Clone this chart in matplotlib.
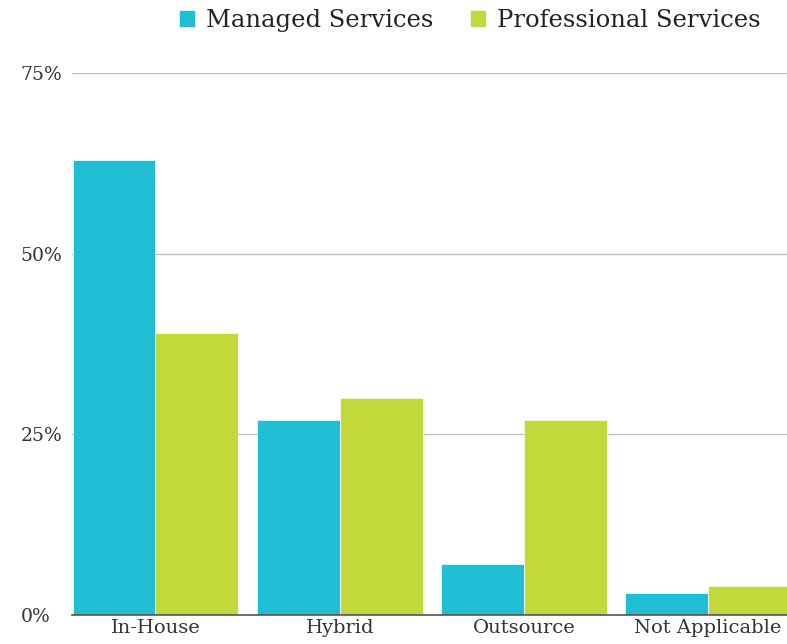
import matplotlib
matplotlib.use("Agg")
import matplotlib.pyplot as plt
import numpy as np

categories = ["In-House", "Hybrid", "Outsource", "Not Applicable"]
managed = [63, 27, 7, 3]
professional = [39, 30, 27, 4]
y_ticks = [0, 25, 50, 75]
y_labels = ["0%", "25%", "50%", "75%"]

CYAN = "#1FBED4"
GREEN = "#C2D83B"
TEXT = "#333333"

fig = plt.figure(figsize=(7.87, 6.44), dpi=100)
ax = fig.add_axes([72 / 787, 29 / 644, 715 / 787, 542 / 644])

x = np.arange(len(categories))
w = 0.45
ax.bar(x - w / 2, managed, w, color=CYAN, edgecolor="white", linewidth=0.5,
       label="Managed Services", zorder=3)
ax.bar(x + w / 2, professional, w, color=GREEN, edgecolor="white", linewidth=0.5,
       label="Professional Services", zorder=3)

ax.set_xlim(-0.4533, 3.4284)
ax.set_ylim(0, 75)
ax.set_xticks(x)
ax.set_xticklabels(categories, fontsize=14, family="DejaVu Serif", color=TEXT)
ax.set_yticks(y_ticks)
ax.set_yticklabels(y_labels, fontsize=13.5, family="DejaVu Serif", color=TEXT)
for lbl in ax.get_yticklabels():
    lbl.set_horizontalalignment("left")
ax.tick_params(axis="y", length=0, pad=37)
ax.tick_params(axis="x", length=0, pad=3)
ax.grid(axis="y", color="#BBBBBB", linewidth=0.9, zorder=0)
for s in ["top", "right", "left"]:
    ax.spines[s].set_visible(False)
ax.spines["bottom"].set_color("#555555")
ax.spines["bottom"].set_linewidth(1.2)
ax.spines["bottom"].set_zorder(4)

fig.legend(loc="upper center", bbox_to_anchor=(0.597, 1.02), ncol=2, frameon=False,
           handlelength=0.66, handleheight=0.66, handletextpad=0.45, columnspacing=1.5,
           prop={"family": "DejaVu Serif", "size": 17.5}, labelcolor="#222222")

fig.savefig("out.png", dpi=100)
